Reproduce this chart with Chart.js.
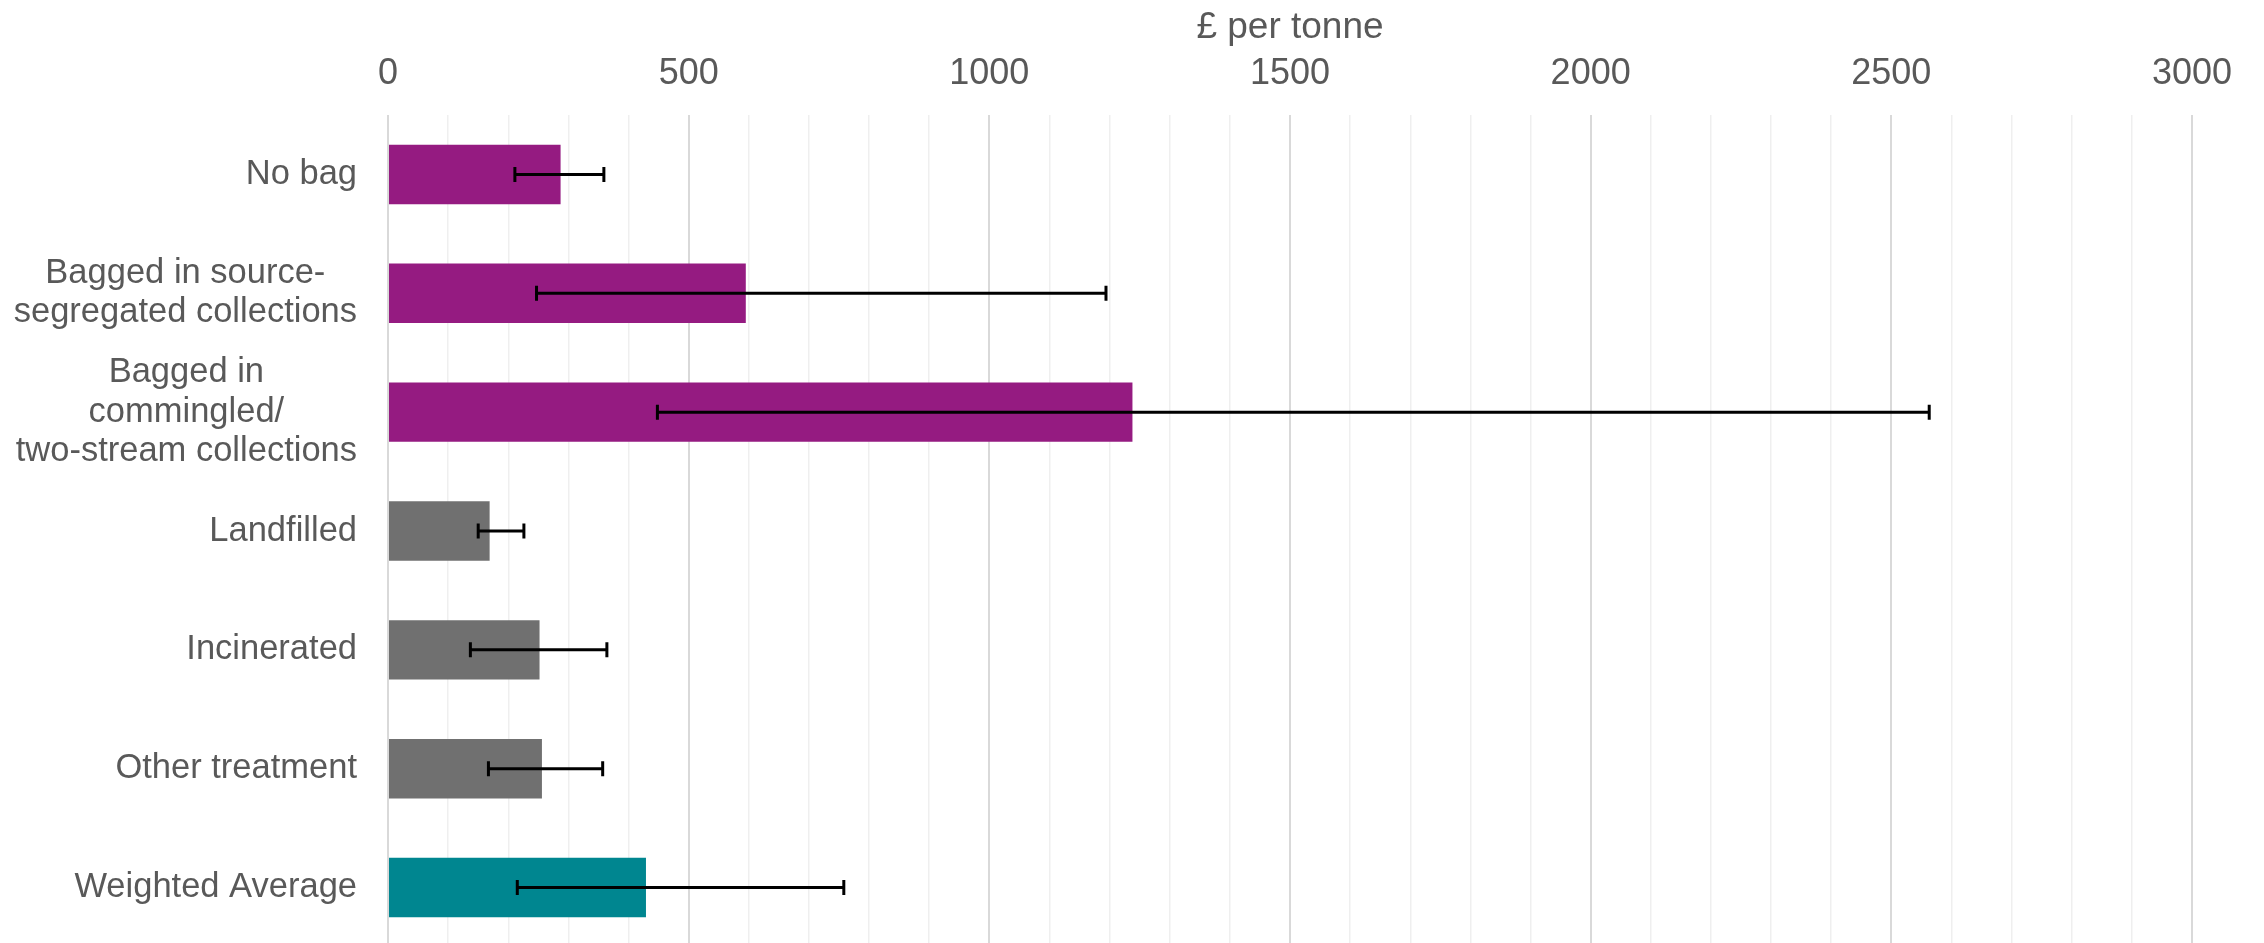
<!DOCTYPE html>
<html>
<head>
<meta charset="utf-8">
<script src="https://cdn.jsdelivr.net/npm/chart.js@4/dist/chart.umd.min.js"></script>
<style>
  html, body {
    margin: 0;
    padding: 0;
    background-color: white;
    overflow: hidden;
  }
  .chart-container {
    position: relative;
    width: 2264px;
    height: 947px;
  }
</style>
</head>
<body>
<div class="chart-container">
  <canvas id="chart"></canvas>
</div>
<script>
'use strict';

// data (£ per tonne)
const categories = [
  'No bag',
  ['Bagged in source-', 'segregated collections'],
  ['Bagged in', 'commingled/', 'two-stream collections'],
  'Landfilled',
  'Incinerated',
  'Other treatment',
  'Weighted Average'
];
const costs = [287, 595, 1238, 169, 252, 256, 429];
const lowerBound = [211, 247, 448, 150, 137, 167, 215];
const upperBound = [359, 1194, 2563, 226, 364, 357, 758];
const groups = ['bag', 'bag', 'bag', 'disposal', 'disposal', 'disposal', 'average'];
const xTicks = [0, 500, 1000, 1500, 2000, 2500, 3000];

const groupColours = {
  bag: '#951B81',
  disposal: '#707070',
  average: '#008690'
};
const FONT = '"Liberation Sans", Arial, sans-serif';
const TEXT = '#595959';

// min/max whiskers on each bar
const errorBars = {
  id: 'errorBars',
  afterDatasetsDraw: (chart) => {
    const ctx = chart.ctx;
    const x = chart.scales.x;
    const y = chart.scales.y;
    ctx.save();
    ctx.strokeStyle = '#000000';
    ctx.lineWidth = 3;
    lowerBound.forEach((lo, i) => {
      const py = y.getPixelForValue(i);
      const x1 = x.getPixelForValue(lo);
      const x2 = x.getPixelForValue(upperBound[i]);
      ctx.beginPath();
      ctx.moveTo(x1, py);
      ctx.lineTo(x2, py);
      ctx.moveTo(x1, py - 7.5);
      ctx.lineTo(x1, py + 7.5);
      ctx.moveTo(x2, py - 7.5);
      ctx.lineTo(x2, py + 7.5);
      ctx.stroke();
    });
    ctx.restore();
  }
};

// category labels: block right-aligned to the axis, lines centred in the block
const categoryLabels = {
  id: 'categoryLabels',
  afterDraw: (chart) => {
    const ctx = chart.ctx;
    const y = chart.scales.y;
    const right = chart.chartArea.left - 31;
    const lineHeight = 39.3;
    ctx.save();
    ctx.font = '34.5px ' + FONT;
    ctx.fillStyle = TEXT;
    ctx.textAlign = 'center';
    ctx.textBaseline = 'middle';
    categories.forEach((label, i) => {
      const lines = Array.isArray(label) ? label : [label];
      const w = Math.max(...lines.map((l) => ctx.measureText(l).width));
      const cx = right - w / 2;
      const cy = y.getPixelForValue(i);
      lines.forEach((l, k) => {
        ctx.fillText(l, cx, cy + (k - (lines.length - 1) / 2) * lineHeight);
      });
    });
    ctx.restore();
  }
};

const ctx = document.getElementById('chart').getContext('2d');
new Chart(ctx, {
  type: 'bar',
  data: {
    labels: categories,
    datasets: [{
      label: '£ per tonne',
      data: costs,
      backgroundColor: groups.map((g) => groupColours[g]),
      barPercentage: 0.5,
      categoryPercentage: 1.0
    }]
  },
  options: {
    indexAxis: 'y',
    responsive: true,
    maintainAspectRatio: false,
    animation: false,
    layout: {
      padding: {top: 0, right: 72, bottom: 0, left: 0}
    },
    plugins: {
      legend: {display: false},
      tooltip: {enabled: false}
    },
    scales: {
      x: {
        position: 'top',
        min: 0,
        max: 3000,
        afterBuildTicks: (scale) => {
          const ticks = [];
          for (let v = 0; v <= 3000; v += 100) {
            ticks.push({value: v});
          }
          scale.ticks = ticks;
        },
        ticks: {
          autoSkip: false,
          maxRotation: 0,
          padding: 19.4,
          color: TEXT,
          font: {family: FONT, size: 36},
          callback: (v) => xTicks.includes(v) ? String(v) : ''
        },
        grid: {
          drawTicks: false,
          color: (c) => c.tick && c.tick.value % 500 === 0 ? '#D9D9D9' : '#EFEFEF',
          lineWidth: (c) => c.tick && c.tick.value % 500 === 0 ? 2 : 1.5
        },
        border: {display: false},
        title: {
          display: true,
          text: '£ per tonne',
          color: TEXT,
          font: {family: FONT, size: 37},
          padding: {top: 6, bottom: -17.4}
        }
      },
      y: {
        ticks: {display: false},
        grid: {display: false},
        border: {display: false},
        afterFit: (scale) => {
          scale.width = 388;
        }
      }
    }
  },
  plugins: [errorBars, categoryLabels]
});
</script>
</body>
</html>
